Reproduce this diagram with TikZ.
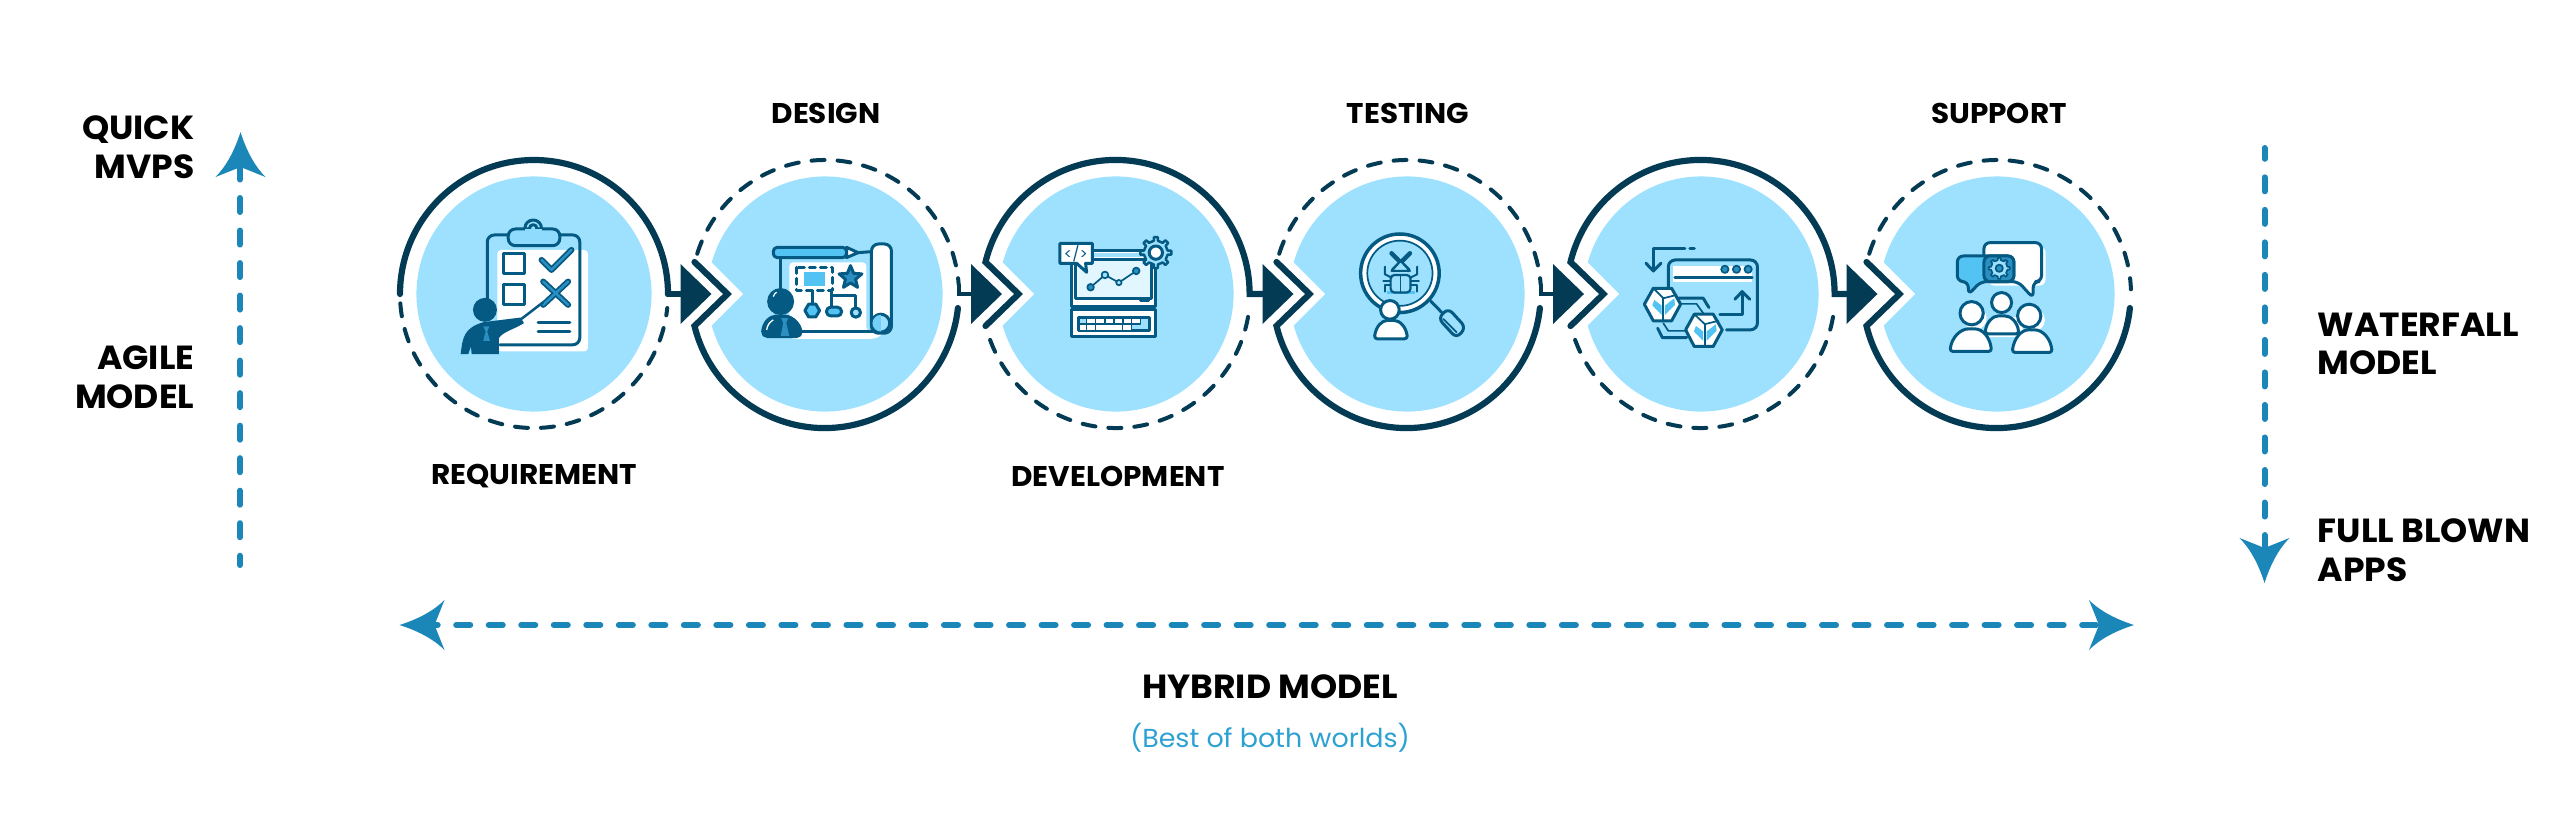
\documentclass[tikz,border=0pt]{standalone}
\usepackage{fontspec}
\setmainfont{Poppins}[FakeStretch=1.035]
\definecolor{discblue}{HTML}{9DE1FF}
\definecolor{ringnavy}{HTML}{033B55}
\definecolor{icondark}{HTML}{045A82}
\definecolor{iconlight}{HTML}{53C3F3}
\definecolor{iconmid}{HTML}{2B8FC2}
\definecolor{headblue}{HTML}{1A87B8}
\definecolor{noteblue}{HTML}{2EA1D3}
\def\ringpiece[#1](#2)(#3:#4){\draw[#1] (#2) ++(#3:134) arc (#3:#4:134);}
\def\notchcut(#1){\fill[white] (#1) ++(-82,0) -- ++(-40,-40) -- ++(0,80) -- cycle;}
\def\flowtip(#1){\fill[ringnavy] (#1) ++(0,-30) -- ++(31,30) -- ++(-31,30) -- cycle;}
\def\bluehead[#1](#2){\fill[headblue,shift={(#2)},rotate=#1] (0,0) .. controls (7,22) and (16,36) .. (25,45) -- (0,35) -- (-25,45) .. controls (-16,36) and (-7,22) .. (0,0) -- cycle;}
\def\cogwheel[#1](#2)(#3:#4){\draw[#1,shift={(#2)}] (-10:#4) \foreach \a in {0,45,...,315} { -- (\a-10:#4) -- (\a-7:#3) -- (\a+7:#3) -- (\a+10:#4) } -- cycle;}
\tikzset{
	disc/.style={circle,fill=discblue,minimum size=2.35cm,inner sep=0pt},
	solidring/.style={draw=ringnavy,line width=0.62mm,line cap=round,line join=miter},
	dashring/.style={draw=ringnavy,line width=0.4mm,line cap=round,dash pattern=on 1.3mm off 1.3mm},
	hookline/.style={draw=ringnavy,line width=0.4mm},
	blueline/.style={draw=headblue,line width=0.6mm,line cap=round,dash pattern=on 1.4mm off 1.85mm},
	stagelabel/.style={font=\fontsize{8.1}{10}\selectfont\bfseries,inner sep=0pt},
	sidelabel/.style={font=\fontsize{9.5}{11}\selectfont\bfseries,inner sep=0pt},
	iconat/.style={shift={(#1)},x=0.00333cm,y=-0.00333cm},
	ico/.style={draw=icondark,line width=0.3mm,line cap=round,line join=round},
	thinico/.style={draw=icondark,line width=0.17mm,line cap=round,line join=round},
}
\begin{document}
\begin{tikzpicture}[x=0.01cm,y=-0.01cm]
	\useasboundingbox (0,0) rectangle (2560,827);
	\fill[white] (0,0) rectangle (2560,827);
	
	%%%%% DISCS %%%%%
	\node[disc] (req) at (534,294) {};
	\node[disc] (des) at (825,294) {};
	\node[disc] (dev) at (1116,294) {};
	\node[disc] (tes) at (1407,294) {};
	\node[disc] (rel) at (1701,294) {};
	\node[disc] (sup) at (1997,294) {};
	\notchcut(des);
	\notchcut(dev);
	\notchcut(tes);
	\notchcut(rel);
	\notchcut(sup);
	
	\coordinate (a1) at (680.5,294);
	\coordinate (a2) at (971,294);
	\coordinate (a3) at (1262.5,294);
	\coordinate (a4) at (1553,294);
	\coordinate (a5) at (1846.5,294);
	
	%%%%% RINGS %%%%%
	\ringpiece[solidring](req)(180:360);
	\ringpiece[dashring](req)(176:6);
	\draw[solidring] (req) ++(134,0) -- (a1);
	
	\ringpiece[dashring](des)(197.5:356);
	\draw[solidring] (des) ++(-130.5,-32) -- ++(33,32) -- ++(-33,32) arc (166.2:6:134);
	\draw[hookline] (des) ++(133.5,-10) |- (a2);
	
	\draw[solidring] (dev) ++(-130.5,32) -- ++(33,-32) -- ++(-33,-32) arc (193.8:360:134) -- (a3);
	\ringpiece[dashring](dev)(160:6);
	
	\ringpiece[dashring](tes)(197.5:356);
	\draw[solidring] (tes) ++(-130.5,-32) -- ++(33,32) -- ++(-33,32) arc (166.2:6:134);
	\draw[hookline] (tes) ++(133.5,-10) |- (a4);
	
	\draw[solidring] (rel) ++(-130.5,32) -- ++(33,-32) -- ++(-33,-32) arc (193.8:360:134) -- (a5);
	\ringpiece[dashring](rel)(160:6);
	
	\ringpiece[dashring](sup)(197.5:358);
	\draw[solidring] (sup) ++(-130.5,-32) -- ++(33,32) -- ++(-33,32) arc (166.2:6:134);
	
	\flowtip(a1);
	\flowtip(a2);
	\flowtip(a3);
	\flowtip(a4);
	\flowtip(a5);
	
	%%%%% BLUE ARROWS %%%%%
	\coordinate (leftlow) at (240,565);
	\coordinate (lefttop) at (240,165.5);
	\coordinate (righttop) at (2264.5,148);
	\coordinate (rightlow) at (2264.5,548);
	\coordinate (hybleft) at (423.7,625);
	\coordinate (hybright) at (2105,625);
	\draw[blueline] (lefttop) -- (leftlow);
	\draw[blueline,dash phase=0.32mm] (righttop) -- (rightlow);
	\draw[blueline] (hybleft) -- (hybright);
	\bluehead[0](240.5,132);
	\bluehead[180](2264.5,583);
	\bluehead[90](399.5,625);
	\bluehead[-90](2134,625);
	
	%%%%% LABELS %%%%%
	\node[sidelabel,align=right,anchor=north east] (quick) at (195,115) {QUICK\\MVPS};
	\node[sidelabel,align=right,anchor=north east] (agile) at (195,345) {AGILE\\MODEL};
	\node[sidelabel,align=left,anchor=north west] (waterfall) at (2317,312) {WATERFALL\\MODEL};
	\node[sidelabel,align=left,anchor=north west] (fullblown) at (2317,518) {FULL BLOWN\\APPS};
	\node[stagelabel] (deslabel) at (826,113.5) {DESIGN};
	\node[stagelabel] (teslabel) at (1408,113.5) {TESTING};
	\node[stagelabel] (suplabel) at (1999,113.5) {SUPPORT};
	\node[stagelabel] (reqlabel) at (534,476.5) {REQUIREMENT};
	\node[stagelabel] (devlabel) at (1118,476.5) {DEVELOPMENT};
	\node[sidelabel] (hybrid) at (1270,687) {HYBRID MODEL};
	\node[font=\fontsize{7.4}{10}\selectfont,text=noteblue,inner sep=0pt] (bestof) at (1270,738) {(Best of both worlds)};
	
	%%%%% REQUIREMENT ICON %%%%%
	\begin{scope}[iconat={450,215}]
		\fill[white,rounded corners=0.4mm] (142,105) rectangle (415,410);
		\draw[ico,rounded corners=0.7mm] (112,255) -- (112,60) -- (390,60) -- (390,390) -- (150,390);
		\draw[ico,fill=discblue] (250,40) circle (25);
		\draw[ico,fill=discblue!80!iconlight,rounded corners=0.7mm] (175,42) rectangle (330,92);
		\draw[ico,fill=discblue] (250,40) circle (11);
		\fill[discblue!80!iconlight] (225,42) rectangle (275,60);
		\draw[ico,fill=white] (160,115) rectangle (225,175);
		\draw[ico,fill=white] (160,208) rectangle (225,268);
		\draw[icondark,line width=0.6mm,line cap=round,line join=round] (275,135) -- (305,165) -- (365,105);
		\draw[iconmid,line width=0.25mm,line cap=round,line join=round] (275,135) -- (305,165) -- (365,105);
		\draw[icondark,line width=0.6mm,line cap=round] (280,200) -- (355,270);
		\draw[icondark,line width=0.6mm,line cap=round] (355,200) -- (280,270);
		\draw[iconmid,line width=0.25mm,line cap=round] (280,200) -- (355,270);
		\draw[iconmid,line width=0.25mm,line cap=round] (355,200) -- (280,270);
		\draw[ico] (265,322) -- (360,322);
		\draw[ico] (265,350) -- (360,350);
		\draw[icondark,line width=0.25mm] (215,312) -- (280,262);
		\fill[icondark] (105,285) circle (36);
		\fill[icondark] (32,418) .. controls (38,370) and (40,340) .. (100,322) -- (213,308) -- (222,325) .. controls (190,345) and (160,350) .. (147,370) -- (147,418) -- (65,418) -- (63,395) -- (55,418) -- cycle;
		\fill[iconmid] (100,335) -- (118,335) -- (112,350) -- (120,378) -- (100,378) -- (107,350) -- cycle;
	\end{scope}
	
	%%%%% DESIGN ICON %%%%%
	\begin{scope}[iconat={750,235}]
		\fill[white,rounded corners=0.4mm] (118,312) -- (118,82) -- (350,82) -- (350,290) -- (405,290) .. controls (385,310) and (370,312) .. (350,312) -- cycle;
		\draw[ico] (92,70) -- (92,170);
		\draw[ico,fill=iconlight,rounded corners=0.4mm] (70,37) rectangle (290,68);
		\draw[ico,fill=white] (290,37) -- (325,53) -- (290,68) -- cycle;
		\draw[ico] (325,53) -- (365,50);
		\draw[ico,fill=white,rounded corners=0.7mm] (365,27) rectangle (425,295);
		\draw[ico,fill=discblue] (393,265) circle (27);
		\fill[iconlight!60!discblue] (393,240) arc (270:90:25);
		\draw[ico] (150,290) -- (370,290);
		\fill[iconlight] (162,112) rectangle (224,152);
		\draw[ico,dash pattern=on 0.6mm off 0.5mm] (140,97) rectangle (247,167);
		\draw[ico,fill=iconmid,shift={(302,128)}] (-90:36) \foreach \a in {-90,-18,54,126,198} { -- (\a:36) -- (\a+36:16) } -- cycle;
		\draw[ico] (187,167) -- (187,210);
		\draw[ico] (246,167) -- (246,218);
		\draw[ico] (246,183) -- (318,183) -- (318,220);
		\draw[ico,fill=iconlight] (165,227) -- (176,208) -- (198,208) -- (209,227) -- (198,246) -- (176,246) -- cycle;
		\draw[ico,fill=iconlight,rounded corners=0.4mm] (230,217) rectangle (275,243);
		\draw[ico,fill=discblue] (318,233) circle (14);
		\draw[ico,fill=icondark] (92,200) circle (36);
		\draw[ico,fill=icondark,rounded corners=0.5mm] (37,305) .. controls (40,262) and (60,245) .. (92,243) .. controls (125,245) and (150,265) .. (155,305) -- cycle;
		\draw[white,line width=0.13mm] (70,185) .. controls (72,178) and (76,174) .. (80,172);
		\draw[white,line width=0.13mm] (50,285) .. controls (52,272) and (58,262) .. (70,255);
		\fill[iconmid] (94,250) -- (114,250) -- (109,265) -- (118,303) -- (92,303) -- (100,265) -- cycle;
	\end{scope}
	
	%%%%% DEVELOPMENT ICON %%%%%
	\begin{scope}[iconat={1050,230}]
		\draw[ico,fill=white] (65,240) rectangle (318,320);
		\draw[ico,fill=discblue] (85,262) rectangle (298,302);
		\fill[white] (110,266) rectangle (270,280);
		\fill[white] (90,285) rectangle (245,299);
		\draw[thinico] (85,282) -- (245,282) -- (272,282) -- (272,265);
		\foreach \kx in {110,137,165,192,220,245} {\draw[thinico] (\kx,262) -- (\kx,282);}
		\foreach \kx in {110,137,218,245} {\draw[thinico] (\kx,282) -- (\kx,302);}
		\draw[ico,fill=white] (65,62) rectangle (318,230);
		\fill[discblue] (78,68) rectangle (305,80);
		\draw[ico,fill=white!70!discblue] (78,88) rectangle (305,205);
		\draw[ico] (272,213) -- (296,213);
		\draw[thinico] (122,172) -- (165,135) -- (207,158) -- (259,123);
		\draw[thinico,fill=iconmid] (122,172) circle (10);
		\draw[thinico,fill=discblue] (165,135) circle (10);
		\draw[thinico,fill=discblue] (207,158) circle (8);
		\draw[thinico,fill=iconmid] (259,123) circle (10);
		\draw[ico,fill=white] (80,100) -- (30,100) -- (30,40) -- (127,40) -- (127,100) -- (107,100) -- (110,127) -- cycle;
		\node[font=\fontsize{4.2}{5}\selectfont,text=icondark,inner sep=0pt] (codetag) at (78,71) {</>};
		\cogwheel[ico,fill=discblue,line width=0.25mm](318,68)(47:36);
		\draw[ico,fill=white] (318,68) circle (20);
	\end{scope}
	
	%%%%% TESTING ICON %%%%%
	\begin{scope}[iconat={1340,225}]
		\draw[ico] (272,228) -- (305,262);
		\draw[ico,fill=discblue,rounded corners=0.6mm] (325,250) -- (378,308) -- (350,340) -- (295,280) -- cycle;
		\draw[thinico] (310,282) -- (350,322);
		\draw[ico,fill=white,line width=0.35mm] (180,145) circle (118);
		\draw[thinico,fill=discblue] (180,145) circle (98);
		\fill[iconlight] (140,198) rectangle (225,207);
		\draw[icondark,line width=0.45mm,line cap=round] (155,85) -- (205,135);
		\draw[icondark,line width=0.45mm,line cap=round] (210,85) -- (160,135);
		\draw[thinico,line width=0.2mm,fill=discblue] (182,108) -- (155,138) -- (210,138) -- cycle;
		\draw[ico,rounded corners=0.4mm,line width=0.22mm,fill=discblue] (152,150) rectangle (212,203);
		\draw[thinico] (182,150) -- (182,203);
		\draw[thinico,line width=0.2mm] (135,125) -- (135,148) -- (155,158);
		\draw[thinico,line width=0.2mm] (130,168) -- (152,168);
		\draw[thinico,line width=0.2mm] (135,200) -- (135,180) -- (152,180);
		\draw[thinico,line width=0.2mm] (232,125) -- (232,148) -- (212,158);
		\draw[thinico,line width=0.2mm] (237,168) -- (212,168);
		\draw[thinico,line width=0.2mm] (232,200) -- (232,180) -- (212,180);
		\draw[ico,fill=white] (150,255) circle (28);
		\draw[ico,fill=white,rounded corners=0.3mm] (103,342) .. controls (108,305) and (125,287) .. (152,286) .. controls (180,287) and (198,305) .. (203,342) -- cycle;
	\end{scope}
	
	%%%%% RELEASE ICON %%%%%
	\begin{scope}[iconat={1635,235}]
		\fill[white] (115,92) rectangle (352,142);
		\draw[ico,rounded corners=0.7mm] (275,285) -- (368,285) -- (368,75) -- (100,75) -- (100,170);
		\draw[ico] (120,128) -- (352,128);
		\draw[thinico,fill=iconmid] (270,103) circle (11);
		\draw[thinico,fill=iconmid] (305,103) circle (11);
		\draw[thinico,fill=iconmid] (340,103) circle (11);
		\draw[ico] (150,42) -- (55,42) -- (55,108);
		\draw[ico] (33,85) -- (55,108) -- (78,85);
		\draw[ico] (165,42) -- (178,42);
		\draw[ico] (255,238) -- (322,238) -- (322,172);
		\draw[ico] (300,193) -- (322,170) -- (345,193);
		\draw[ico] (130,190) -- (205,190) -- (222,218);
		\draw[thinico] (130,207) -- (185,207) -- (205,235);
		\draw[ico] (68,280) -- (82,308) -- (155,308);
		\draw[thinico] (85,265) -- (100,288) -- (155,288);
		\draw[ico,fill=white] (55,160) -- (110,160) -- (137,208) -- (110,258) -- (55,258) -- (28,208) -- cycle;
		\fill[iconlight] (58,195) -- (80,212) -- (80,240) -- (52,212) -- cycle;
		\fill[iconlight] (90,212) -- (118,190) -- (120,210) -- (90,240) -- cycle;
		\draw[thinico] (55,160) -- (85,190) -- (125,180);
		\draw[thinico] (85,190) -- (85,255);
		\draw[ico,fill=white] (178,238) -- (235,238) -- (262,285) -- (235,335) -- (178,335) -- (152,285) -- cycle;
		\fill[iconlight] (183,273) -- (205,290) -- (205,318) -- (177,290) -- cycle;
		\fill[iconlight] (215,290) -- (243,268) -- (245,288) -- (215,318) -- cycle;
		\draw[thinico] (178,238) -- (210,268) -- (250,258);
		\draw[thinico] (210,268) -- (210,332);
	\end{scope}
	
	%%%%% SUPPORT ICON %%%%%
	\begin{scope}[iconat={1940,230}]
		\fill[white,rounded corners=0.6mm] (145,50) rectangle (317,167);
		\draw[ico,fill=white,rounded corners=0.6mm] (132,38) -- (305,38) -- (305,155) -- (280,155) -- (280,205) -- (235,155) -- (132,155) -- cycle;
		\draw[ico,fill=iconlight,rounded corners=0.6mm] (52,78) -- (222,78) -- (222,155) -- (122,155) -- (85,195) -- (85,155) -- (52,155) -- cycle;
		\draw[ico,fill=iconmid,rounded corners=0.6mm] (132,78) -- (222,78) -- (222,155) -- (132,155) -- cycle;
		\cogwheel[thinico,fill=discblue](178,115)(32:25);
		\draw[thinico,fill=iconmid] (178,115) circle (11);
		\fill[white] (150,262) -- (245,262) -- (250,322) -- (145,322) -- cycle;
		\draw[ico,fill=white] (185,218) circle (30);
		\draw[ico,fill=white,rounded corners=0.3mm] (135,312) .. controls (140,275) and (160,258) .. (185,258) .. controls (212,258) and (232,275) .. (237,312) -- cycle;
		\fill[white] (105,265) circle (35);
		\draw[ico,fill=white] (95,250) circle (35);
		\draw[ico,fill=white,rounded corners=0.3mm] (30,365) .. controls (35,322) and (62,297) .. (95,297) .. controls (128,297) and (150,322) .. (155,365) -- cycle;
		\fill[white] (280,270) circle (35);
		\draw[ico,fill=white] (268,258) circle (35);
		\draw[ico,fill=white,rounded corners=0.3mm] (217,368) .. controls (222,325) and (245,300) .. (275,300) .. controls (308,300) and (332,325) .. (337,368) -- cycle;
	\end{scope}
\end{tikzpicture}
\end{document}
